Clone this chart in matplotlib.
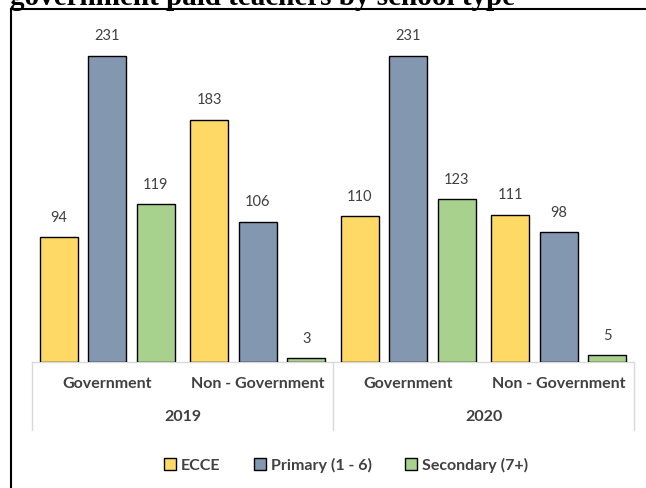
import matplotlib
matplotlib.use("Agg")
import matplotlib.pyplot as plt
import numpy as np
from matplotlib.lines import Line2D

# data
years = ["2019", "2020"]
school_types = ["Government", "Non - Government"]
series_names = ["ECCE", "Primary (1 - 6)", "Secondary (7+)"]
ecce = [94, 183, 110, 111]
primary = [231, 106, 231, 98]
secondary = [119, 3, 123, 5]

colors = ["#FFD966", "#8497B0", "#A9D18E"]
text_col = "#404040"

W, H = 646, 488
fig = plt.figure(figsize=(W / 100, H / 100), dpi=100)
plt.rcParams['font.family'] = ['Lato', 'DejaVu Sans']

# axes placed in pixel terms
left, right, base, top = 32, 634, 362, 30
ax = fig.add_axes([left / W, (H - base) / H, (right - left) / W, (base - top) / H])
px_per_unit = (362 - 56) / 231.0
ax.set_ylim(0, (base - top) / px_per_unit)
ax.set_xlim(-0.5, 3.5)

step = 0.322
width = 0.252
x = np.arange(len(ecce))
for i, (vals, col) in enumerate(zip([ecce, primary, secondary], colors)):
    xs = x + (i - 1) * step
    bars = ax.bar(xs, vals, width, color=col, edgecolor="black", linewidth=1.0,
                  label=series_names[i], zorder=3)
    for b, v in zip(bars, vals):
        ax.annotate(str(v), (b.get_x() + b.get_width() / 2, v), xytext=(0, 9),
                    textcoords="offset points", ha="center", va="bottom",
                    fontsize=10.5, color=text_col)

ax.set_yticks([])
ax.set_xticks([])
for s in ["left", "right", "top"]:
    ax.spines[s].set_visible(False)
ax.spines["bottom"].set_color("#D9D9D9")
ax.spines["bottom"].set_linewidth(1.0)

# category axis: separators and labels
sep_bottom = -(430 - base) / (base - top)
for xv in [-0.5, 1.5, 3.5]:
    ax.add_line(Line2D([xv, xv], [0, sep_bottom], color="#D9D9D9", lw=1.0,
                       transform=ax.get_xaxis_transform(), clip_on=False))

lab_y = -(384 - base) / (base - top)
year_y = -(417 - base) / (base - top)
for g in range(4):
    ax.text(g, lab_y, school_types[g % 2], ha="center", va="center",
            fontsize=11.5, fontweight="bold", color=text_col,
            transform=ax.get_xaxis_transform())
for k, yr in enumerate(years):
    ax.text(2 * k + 0.5, year_y, yr, ha="center", va="center",
            fontsize=11.5, fontweight="bold", color=text_col,
            transform=ax.get_xaxis_transform())

fig.legend(loc="center", bbox_to_anchor=(346 / W, 1 - 465 / H), ncol=3,
           frameon=False, handlelength=0.75, handleheight=0.75, columnspacing=2.1,
           handletextpad=0.3, prop={"size": 11.5, "weight": "bold"},
           labelcolor=text_col)

# outer frame (top and left edges) and the clipped title
fig.add_artist(Line2D([11 / W, 1], [1 - 9 / H, 1 - 9 / H], color="black", lw=1.5))
fig.add_artist(Line2D([11 / W, 11 / W], [0, 1 - 9 / H], color="black", lw=1.5))
fig.text(10 / W, 1 - 5 / H, "government paid teachers by school type",
         family="Liberation Serif", fontweight="bold", fontsize=21,
         ha="left", va="baseline")

fig.savefig("out.png", dpi=100)
